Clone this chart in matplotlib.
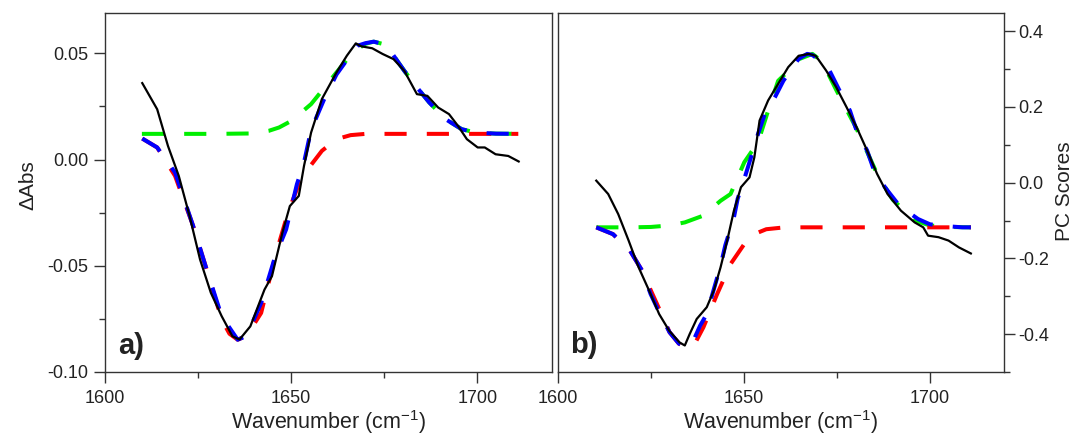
import matplotlib
matplotlib.use("Agg")
import matplotlib.pyplot as plt
from matplotlib.ticker import MultipleLocator, FormatStrFormatter

plt.rcParams['font.family'] = ['Liberation Sans', 'DejaVu Sans']
plt.rcParams['mathtext.default'] = 'regular'

# ---------------- Panel a) data ----------------
wn_a_black = [1610.1, 1614.1, 1617.0, 1619.9, 1622.8, 1625.6, 1628.5, 1631.4, 1634.3, 1636.2,
              1639.1, 1642.9, 1644.9, 1647.7, 1649.7, 1652.1, 1653.5, 1655.4, 1658.3, 1662.2,
              1665.0, 1667.4, 1668.9, 1671.8, 1674.6, 1677.5, 1680.4, 1683.8, 1686.6, 1689.5,
              1692.4, 1694.8, 1697.2, 1700.1, 1702.0, 1704.9, 1708.3, 1711.1]
abs_a_black = [0.036, 0.0237, 0.0064, -0.0077, -0.0266, -0.047, -0.0627, -0.0737, -0.0832, -0.0847,
               -0.0785, -0.0612, -0.0549, -0.0344, -0.0219, -0.0171, -0.003, 0.0127, 0.0285, 0.041,
               0.0489, 0.0547, 0.0533, 0.0524, 0.0497, 0.0473, 0.0418, 0.0308, 0.030, 0.0245,
               0.0214, 0.0159, 0.0096, 0.0057, 0.0057, 0.0025, 0.0017, -0.0009]

wn_a_green = [1610, 1620, 1630, 1640, 1644, 1646.8, 1650.1, 1655.4, 1658.3, 1662.2, 1665.5, 1667.9,
              1670, 1672.2, 1674.5, 1676.6, 1680.4, 1683.8, 1687.1, 1691.5, 1695.8, 1699.6, 1705, 1711]
abs_a_green = [0.0121, 0.0121, 0.0121, 0.0123, 0.0135, 0.0151, 0.0182, 0.0261, 0.0324, 0.041, 0.0481, 0.052,
               0.0545, 0.0555, 0.0545, 0.0513, 0.0418, 0.034, 0.0269, 0.019, 0.0143, 0.0127, 0.0122, 0.0121]

wn_a_red = [1610.1, 1614.1, 1618.9, 1623.7, 1627.6, 1631.4, 1633.5, 1635.7, 1638.1, 1642.0,
            1645.8, 1649.2, 1652.1, 1654.5, 1658.3, 1662.2, 1666.0, 1670.0, 1690.0, 1711.0]
abs_a_red = [0.0099, 0.0057, -0.0077, -0.031, -0.053, -0.0753, -0.082, -0.0848, -0.083, -0.0722,
             -0.0454, -0.025, -0.0116, -0.0046, 0.0041, 0.0096, 0.0115, 0.0121, 0.0121, 0.0121]

wn_a_blue = [1610.1, 1614.1, 1618.9, 1623.7, 1627.6, 1631.4, 1635.7, 1638.1, 1642.0, 1645.8,
             1648.7, 1650.1, 1651.6, 1653.5, 1655.4, 1658.8, 1662.2, 1665.5, 1667.9, 1670.0,
             1672.2, 1674.5, 1676.6, 1680.4, 1683.8, 1687.1, 1691.5, 1695.8, 1699.6, 1705.0, 1711.0]
abs_a_blue = [0.0099, 0.0057, -0.0061, -0.031, -0.053, -0.0737, -0.0848, -0.083, -0.0675, -0.0454,
              -0.0329, -0.0226, -0.0116, -0.0014, 0.014, 0.028, 0.040, 0.0481, 0.0536, 0.0548,
              0.0555, 0.0545, 0.0513, 0.0418, 0.034, 0.0269, 0.019, 0.0143, 0.0127, 0.0122, 0.0121]

# ---------------- Panel b) data ----------------
wn_b_black = [1610.3, 1613.5, 1616.2, 1619.0, 1621.7, 1624.5, 1627.2, 1629.9, 1632.7, 1634.1,
              1635.4, 1637.3, 1640.0, 1641.9, 1643.7, 1645.5, 1647.3, 1649.2, 1651.5, 1652.8,
              1654.2, 1656.5, 1659.2, 1661.9, 1664.7, 1667.5, 1669.3, 1672.1, 1674.8, 1677.6,
              1680.3, 1683.1, 1685.8, 1688.6, 1692.2, 1695.9, 1698.2, 1699.5, 1702.3, 1705.0,
              1707.8, 1711.0]
pc_b_black = [0.0053, -0.030, -0.083, -0.153, -0.224, -0.285, -0.347, -0.391, -0.422, -0.430,
              -0.400, -0.360, -0.329, -0.285, -0.224, -0.153, -0.074, -0.012, 0.014, 0.067,
              0.164, 0.217, 0.261, 0.305, 0.335, 0.340, 0.335, 0.296, 0.252, 0.199,
              0.146, 0.085, 0.023, -0.030, -0.074, -0.105, -0.118, -0.140, -0.144, -0.153,
              -0.171, -0.187]

wn_b_green = [1610.3, 1615, 1620, 1625, 1630, 1634.1, 1639.1, 1643.7, 1646.4, 1650.1, 1653.8, 1656.5,
              1659.2, 1661.1, 1664.5, 1668.4, 1671, 1674.8, 1680.3, 1685.8, 1690, 1695.9, 1700, 1705, 1711]
pc_b_green = [-0.118, -0.118, -0.118, -0.117, -0.113, -0.105, -0.087, -0.048, -0.030, 0.054, 0.107, 0.19,
              0.269, 0.287, 0.325, 0.340, 0.320, 0.245, 0.142, 0.023, -0.045, -0.100, -0.113, -0.117, -0.118]

wn_b_red = [1610.3, 1614.8, 1619.4, 1622.6, 1625.4, 1628.0, 1630.0, 1632.5, 1634.5, 1636.8,
            1639.1, 1642.8, 1646.4, 1650.1, 1653.0, 1656.0, 1660.0, 1665.0, 1680.0, 1700.0, 1711.0]
pc_b_red = [-0.118, -0.136, -0.18, -0.232, -0.294, -0.35, -0.395, -0.425, -0.437, -0.425,
            -0.382, -0.294, -0.215, -0.162, -0.135, -0.123, -0.119, -0.118, -0.118, -0.118, -0.118]

wn_b_blue = [1610.3, 1614.8, 1619.4, 1622.6, 1624.9, 1627.2, 1630.0, 1632.5, 1634.5, 1636.5,
             1638.2, 1640.0, 1641.8, 1643.7, 1645.0, 1647.3, 1648.3, 1650.1, 1651.9, 1653.8,
             1655.6, 1658.3, 1660.6, 1664.7, 1667.0, 1668.4, 1670.5, 1673.0, 1675.7, 1678.5,
             1680.3, 1683.1, 1685.3, 1688.6, 1691.8, 1696.8, 1700.0, 1703.2, 1708.7, 1711.0]
pc_b_blue = [-0.118, -0.136, -0.18, -0.232, -0.294, -0.342, -0.395, -0.425, -0.435, -0.415,
             -0.378, -0.347, -0.285, -0.220, -0.165, -0.092, -0.043, 0.010, 0.067, 0.129,
             0.181, 0.225, 0.269, 0.327, 0.340, 0.337, 0.322, 0.296, 0.243, 0.190,
             0.137, 0.085, 0.023, -0.021, -0.061, -0.096, -0.110, -0.114, -0.118, -0.118]

xlabel_text = "Wavenumber (cm$^{-1}$)"

# ---------------- Figure ----------------
fig = plt.figure(figsize=(10.73, 4.36), dpi=100)
ax1 = fig.add_axes([0.0975, 0.1468, 0.4168, 0.8234])
ax2 = fig.add_axes([0.520, 0.1468, 0.416, 0.8234])

dash_kw = dict(lw=2.9, linestyle=(0, (5.5, 5.0)), dash_capstyle='butt')
spine_col = '#333333'

def draw(ax, g, r, b, k):
    ax.plot(g[0], g[1], color='#00ee00', **dash_kw)
    ax.plot(r[0], r[1], color='#ff0000', **dash_kw)
    ax.plot(b[0], b[1], color='#0000ff', **dash_kw)
    ax.plot(k[0], k[1], color='black', lw=1.6)
    ax.set_xlim(1600, 1720)
    ax.xaxis.set_major_locator(MultipleLocator(50))
    ax.xaxis.set_minor_locator(MultipleLocator(25))
    for s in ax.spines.values():
        s.set_color(spine_col)
        s.set_linewidth(1.0)
    ax.tick_params(which='both', direction='out', colors=spine_col, labelcolor='#222222',
                   labelsize=13, width=1.0)
    ax.tick_params(which='major', length=8)
    ax.tick_params(which='minor', length=4)
    ax.tick_params(axis='x', pad=5)
    ax.set_xlabel(xlabel_text, fontsize=15.5, color='#222222')
    ax.xaxis.set_label_coords(0.5, -0.100)

draw(ax1, (wn_a_green, abs_a_green), (wn_a_red, abs_a_red), (wn_a_blue, abs_a_blue),
     (wn_a_black, abs_a_black))
ax1.set_ylim(-0.10, 0.069)
ax1.yaxis.set_major_locator(MultipleLocator(0.05))
ax1.yaxis.set_minor_locator(MultipleLocator(0.025))
ax1.yaxis.set_major_formatter(FormatStrFormatter('%.2f'))
ax1.tick_params(axis='y', pad=3.5)
ax1.set_ylabel("ΔAbs", fontsize=15, color='#222222')
ax1.yaxis.set_label_coords(-0.150, 0.52)
ax1.text(0.030, 0.049, "a)", transform=ax1.transAxes, fontsize=21, fontweight='bold',
         ha='left', va='baseline', color='#222222')

draw(ax2, (wn_b_green, pc_b_green), (wn_b_red, pc_b_red), (wn_b_blue, pc_b_blue),
     (wn_b_black, pc_b_black))
ax2.set_ylim(-0.50, 0.448)
ax2.yaxis.tick_right()
ax2.yaxis.set_label_position('right')
ax2.yaxis.set_major_locator(MultipleLocator(0.2))
ax2.yaxis.set_minor_locator(MultipleLocator(0.1))
ax2.yaxis.set_major_formatter(FormatStrFormatter('%.1f'))
ax2.tick_params(axis='y', pad=2)
ax2.set_ylabel("PC Scores", fontsize=15, color='#222222')
ax2.yaxis.set_label_coords(1.114, 0.504)
ax2.text(0.028, 0.054, "b)", transform=ax2.transAxes, fontsize=21, fontweight='bold',
         ha='left', va='baseline', color='#222222')

fig.savefig("out.png", dpi=100)
